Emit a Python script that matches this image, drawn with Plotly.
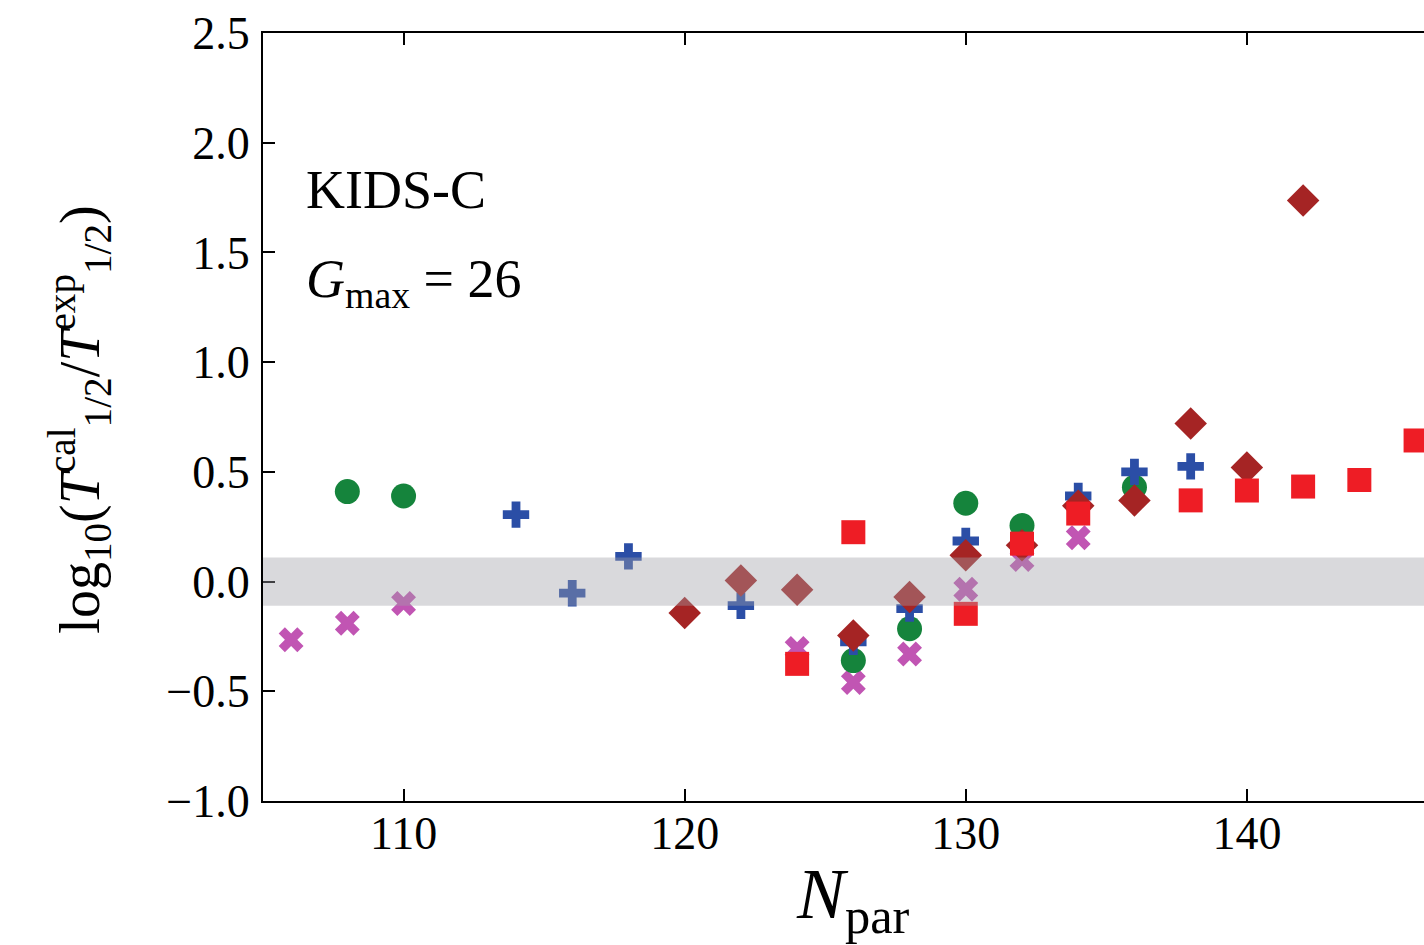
import plotly.graph_objects as go

# ---- data ----
x_mag = [106, 108, 110, 124, 126, 128, 130, 132, 134]
y_mag = [-0.265, -0.19, -0.10, -0.305, -0.46, -0.33, -0.035, 0.10, 0.20]

x_grn = [108, 110, 126, 128, 130, 132, 136]
y_grn = [0.41, 0.39, -0.36, -0.215, 0.357, 0.255, 0.43]

x_blu = [114, 116, 118, 122, 126, 128, 130, 134, 136, 138]
y_blu = [0.305, -0.053, 0.115, -0.11, -0.275, -0.123, 0.185, 0.39, 0.50, 0.525]

x_dia = [120, 122, 124, 126, 128, 130, 132, 134, 136, 138, 140, 142]
y_dia = [-0.143, 0.005, -0.037, -0.246, -0.07, 0.12, 0.165, 0.345, 0.37, 0.72, 0.52, 1.737]

x_sq = [124, 126, 130, 132, 134, 138, 140, 142, 144, 146]
y_sq = [-0.375, 0.225, -0.147, 0.173, 0.31, 0.37, 0.415, 0.433, 0.463, 0.643]

x_ticks = [110, 120, 130, 140]
y_ticks = [-1.0, -0.5, 0.0, 0.5, 1.0, 1.5, 2.0, 2.5]
y_ticktext = ["\u22121.0", "\u22120.5", "0.0", "0.5", "1.0", "1.5", "2.0", "2.5"]
band = [-0.11, 0.11]

FONT = "Liberation Serif"

fig = go.Figure()
fig.add_trace(go.Scatter(x=x_mag, y=y_mag, mode="markers", cliponaxis=False,
                         marker=dict(symbol="x", size=22, color="#c155b3", line=dict(width=0))))
fig.add_trace(go.Scatter(x=x_grn, y=y_grn, mode="markers", cliponaxis=False,
                         marker=dict(symbol="circle", size=25, color="#15843c", line=dict(width=0))))
fig.add_trace(go.Scatter(x=x_blu, y=y_blu, mode="markers", cliponaxis=False,
                         marker=dict(symbol="cross", size=22, color="#2b4ea6", line=dict(width=0))))
fig.add_trace(go.Scatter(x=x_dia, y=y_dia, mode="markers", cliponaxis=False,
                         marker=dict(symbol="diamond", size=25, color="#a52424", line=dict(width=0))))
fig.add_trace(go.Scatter(x=x_sq, y=y_sq, mode="markers", cliponaxis=False,
                         marker=dict(symbol="square", size=24, color="#ee1d25", line=dict(width=0))))

fig.add_shape(type="rect", xref="paper", x0=0, x1=1, yref="y", y0=band[0], y1=band[1],
              fillcolor="rgba(160,160,168,0.40)", line=dict(width=0), layer="above")

fig.update_layout(
    width=1424, height=945,
    margin=dict(l=263, r=0, t=33, b=144),
    paper_bgcolor="white", plot_bgcolor="white",
    showlegend=False,
    font=dict(family=FONT, color="black", size=46),
    xaxis=dict(range=[105, 146.3], tickvals=x_ticks, ticks="inside", ticklen=12, tickwidth=2,
               tickcolor="black", showline=True, linecolor="black", linewidth=2,
               mirror="allticks", showgrid=False, zeroline=False,
               tickfont=dict(family=FONT, size=46, color="black"), ticklabelstandoff=-9),
    yaxis=dict(range=[-1.0, 2.5], tickvals=y_ticks, ticktext=y_ticktext, ticks="inside",
               ticklen=12, tickwidth=2, tickcolor="black", showline=True, linecolor="black",
               linewidth=2, mirror=False, showgrid=False, zeroline=False,
               tickfont=dict(family=FONT, size=46, color="black"), ticklabelstandoff=2),
)

fig.add_annotation(xref="paper", yref="paper", x=0.035, y=0.796, xanchor="left", yanchor="middle",
                   text="KIDS-C", showarrow=False, font=dict(family=FONT, size=54))
fig.add_annotation(xref="paper", yref="paper", x=0.035, y=0.675, xanchor="left", yanchor="middle",
                   text="<i>G</i><sub>max</sub> = 26", showarrow=False, font=dict(family=FONT, size=54))

# axis titles as annotations
fig.add_annotation(xref="paper", yref="paper", x=0.508, y=-0.128, xanchor="center", yanchor="middle",
                   text="<i>N</i><sub>par</sub>", showarrow=False, font=dict(family=FONT, size=72))
fig.add_annotation(xref="paper", yref="paper", x=-0.158, y=0.496, xanchor="center", yanchor="middle",
                   textangle=-90,
                   text="log<sub>10</sub>(<i>T</i><sup>cal</sup><sub>1/2</sub>/<i>T</i><sup>exp</sup><sub>1/2</sub>)",
                   showarrow=False, font=dict(family=FONT, size=56))

fig.write_html("out.html")
